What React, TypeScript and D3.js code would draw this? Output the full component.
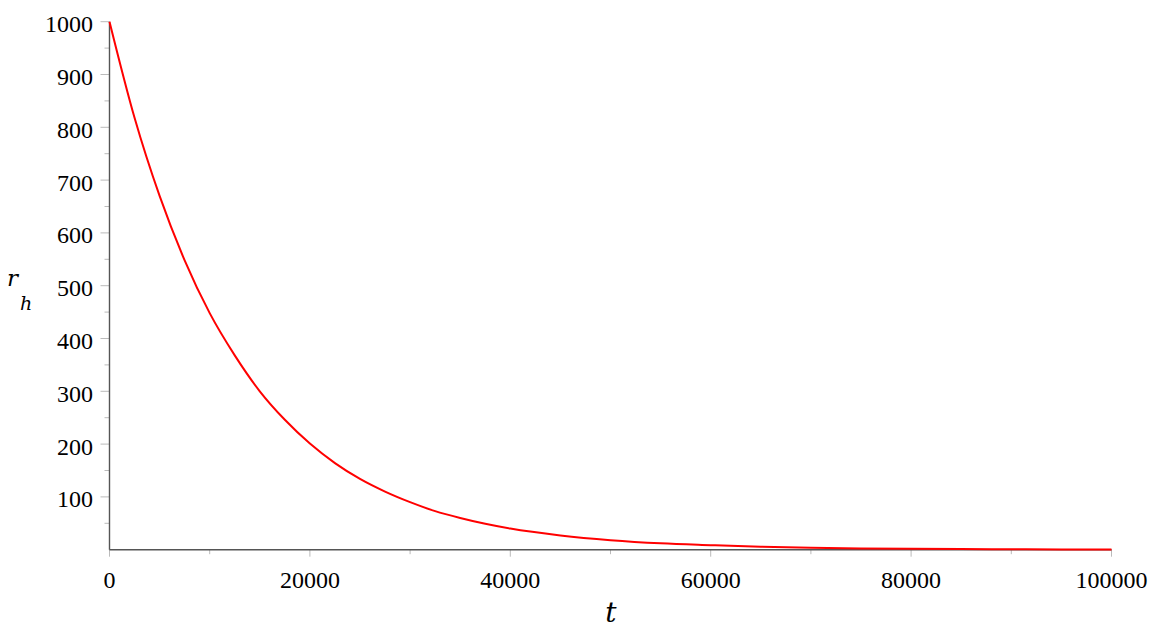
import React from "react";
import * as d3 from "d3";

const tValues = [0, 2500, 5000, 7500, 10000, 12500, 15000, 17500, 20000, 22500, 25000, 27500, 30000, 32500, 35000, 37500, 40000, 45000, 50000, 55000, 60000, 65000, 70000, 75000, 80000, 85000, 90000, 95000, 100000];
const rValues = [1000, 818, 670, 548, 448, 368, 300, 246, 201, 164, 134, 110, 90, 73, 60, 49, 40, 27, 18, 12, 8.5, 5.5, 3.7, 2.5, 1.7, 1.1, 0.8, 0.5, 0.35];
const xTicks = [0, 20000, 40000, 60000, 80000, 100000];
const xMinor = [10000, 30000, 50000, 70000, 90000];
const yTicks = [100, 200, 300, 400, 500, 600, 700, 800, 900, 1000];
const yMinor = [50, 150, 250, 350, 450, 550, 650, 750, 850, 950];

export default function App() {
  const W = 1157, H = 636;
  const x = d3.scaleLinear().domain([0, 100000]).range([109.5, 1111.5]);
  const y = d3.scaleLinear().domain([0, 1000]).range([549.7, 21.7]);
  const pts = tValues.map((t, i) => [t, rValues[i]] as [number, number]);
  const line = d3.line<[number, number]>().x(d => x(d[0])).y(d => y(d[1])).curve(d3.curveMonotoneX);
  const font = "'Liberation Serif', 'Times New Roman', serif";
  const italicFont = "'DejaVu Serif', 'Liberation Serif', serif";
  const axisY = y(0);
  const axisX = x(0);
  return (
    <svg width={W} height={H} style={{ position: "absolute", left: 0, top: 0, background: "#fff" }} fontFamily={font}>
      {xTicks.map(t => (
        <line key={"xt" + t} x1={x(t)} x2={x(t)} y1={axisY} y2={axisY + 7} stroke="#bbb" strokeWidth={1} />
      ))}
      {xMinor.map(t => (
        <line key={"xm" + t} x1={x(t)} x2={x(t)} y1={axisY} y2={axisY + 4.5} stroke="#bbb" strokeWidth={1} />
      ))}
      {yTicks.map(v => (
        <line key={"yt" + v} x1={axisX - 9} x2={axisX} y1={y(v)} y2={y(v)} stroke="#bbb" strokeWidth={1} />
      ))}
      {yMinor.map(v => (
        <line key={"ym" + v} x1={axisX - 5} x2={axisX} y1={y(v)} y2={y(v)} stroke="#bbb" strokeWidth={1} />
      ))}
      <line x1={axisX} x2={x(100000)} y1={axisY} y2={axisY} stroke="#555" strokeWidth={1.4} />
      <line x1={axisX} x2={axisX} y1={axisY} y2={y(1000)} stroke="#555" strokeWidth={1.4} />
      {xTicks.map(t => (
        <text key={"xl" + t} x={x(t)} y={588} fontSize={24} textAnchor="middle" fill="#000">{t}</text>
      ))}
      {yTicks.map(v => (
        <text key={"yl" + v} x={93} y={y(v) + 10.5} fontSize={24} textAnchor="end" fill="#000">{v}</text>
      ))}
      <path d={line(pts) || ""} fill="none" stroke="#ff0000" strokeWidth={2} />
      <text x={611} y={622} fontSize={28} fontStyle="italic" textAnchor="middle" fill="#000" fontFamily={italicFont}>t</text>
      <text x={7} y={286} fontSize={23} fontStyle="italic" fill="#000" fontFamily={italicFont}>r</text>
      <text x={20} y={310} fontSize={19} fontStyle="italic" fill="#000" fontFamily={italicFont}>h</text>
    </svg>
  );
}
